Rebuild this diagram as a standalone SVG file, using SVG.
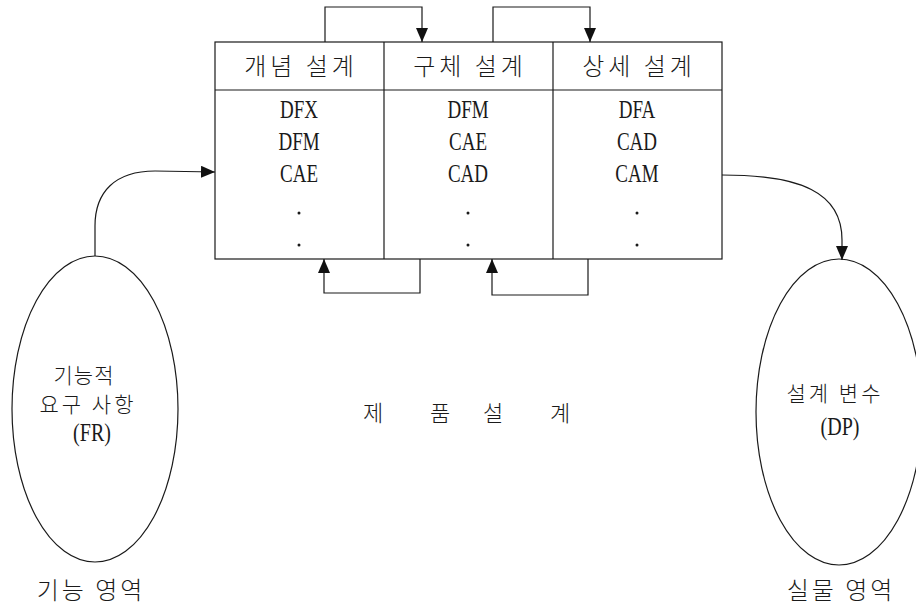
<svg xmlns="http://www.w3.org/2000/svg" width="916" height="607" viewBox="0 0 916 607">
<style>
.ln{fill:none;stroke:#1a1a1a;stroke-width:1.2}
.ko{font-family:"Noto Sans CJK KR","Noto Sans",sans-serif;fill:#1a1a1a;text-anchor:middle;font-weight:300}
.la{font-family:"Liberation Serif",serif;fill:#1a1a1a;text-anchor:middle;font-size:25px}
.hd{font-size:24px;letter-spacing:4px}
.dot{fill:#1a1a1a}
</style>
<defs>
<marker id="ah" markerUnits="userSpaceOnUse" markerWidth="14" markerHeight="12" refX="14" refY="6" orient="auto">
<path d="M0,0 L14,6 L0,12 z" fill="#111"/>
</marker>
</defs>
<rect width="916" height="607" fill="#fff"/>

<g id="table">
<rect class="ln" x="215" y="42" width="507" height="217"/>
<line class="ln" x1="215" y1="90" x2="722" y2="90"/>
<line class="ln" x1="384" y1="42" x2="384" y2="259"/>
<line class="ln" x1="553" y1="42" x2="553" y2="259"/>
</g>

<g id="col-concept">
<text class="ko hd" x="301" y="75">개념 설계</text>
<g transform="translate(299,0) scale(0.76,1)">
<text class="la" x="0" y="118">DFX</text>
<text class="la" x="0" y="150">DFM</text>
<text class="la" x="0" y="182">CAE</text>
</g>
<circle class="dot" cx="299" cy="213" r="1.5"/>
<circle class="dot" cx="299" cy="245" r="1.5"/>
</g>

<g id="col-embodiment">
<text class="ko hd" x="470" y="75">구체 설계</text>
<g transform="translate(468,0) scale(0.76,1)">
<text class="la" x="0" y="118">DFM</text>
<text class="la" x="0" y="150">CAE</text>
<text class="la" x="0" y="182">CAD</text>
</g>
<circle class="dot" cx="468" cy="213" r="1.5"/>
<circle class="dot" cx="468" cy="245" r="1.5"/>
</g>

<g id="col-detail">
<text class="ko hd" x="639" y="75">상세 설계</text>
<g transform="translate(637,0) scale(0.76,1)">
<text class="la" x="0" y="118">DFA</text>
<text class="la" x="0" y="150">CAD</text>
<text class="la" x="0" y="182">CAM</text>
</g>
<circle class="dot" cx="637" cy="213" r="1.5"/>
<circle class="dot" cx="637" cy="245" r="1.5"/>
</g>

<g id="fr">
<ellipse class="ln" cx="95" cy="409" rx="83" ry="153"/>
<text class="ko" font-size="21" x="84" y="383" letter-spacing="1">기능적</text>
<text class="ko" font-size="21" x="88" y="412" letter-spacing="3">요구 사항</text>
<g transform="translate(92,0) scale(0.8,1)"><text class="la" x="0" y="441">(FR)</text></g>
</g>

<g id="dp">
<ellipse class="ln" cx="839" cy="412" rx="83" ry="153"/>
<text class="ko" font-size="21" x="835" y="401" letter-spacing="3">설계 변수</text>
<g transform="translate(840,0) scale(0.8,1)"><text class="la" x="0" y="435">(DP)</text></g>
</g>

<g id="product">
<text class="ko" font-size="22" x="373" y="421">제</text>
<text class="ko" font-size="22" x="440" y="421">품</text>
<text class="ko" font-size="22" x="493" y="421">설</text>
<text class="ko" font-size="22" x="560" y="421">계</text>
</g>

<g id="labels">
<text class="ko" font-size="24" x="91" y="599" letter-spacing="3">기능 영역</text>
<text class="ko" font-size="24" x="841" y="599" letter-spacing="3">실물 영역</text>
</g>

<g id="connectors">
<path class="ln" d="M325,42 V7 H422 V42" marker-end="url(#ah)"/>
<path class="ln" d="M493,42 V7 H590 V42" marker-end="url(#ah)"/>
<path class="ln" d="M420,259 V293 H324 V259" marker-end="url(#ah)"/>
<path class="ln" d="M588,259 V295 H492 V259" marker-end="url(#ah)"/>
<path class="ln" d="M95,256 V226 C95,192 115,171 155,171 L215,172" marker-end="url(#ah)"/>
<path class="ln" d="M722,175 C800,175 842,192 842,240 L842,260" marker-end="url(#ah)"/>
</g>
</svg>
